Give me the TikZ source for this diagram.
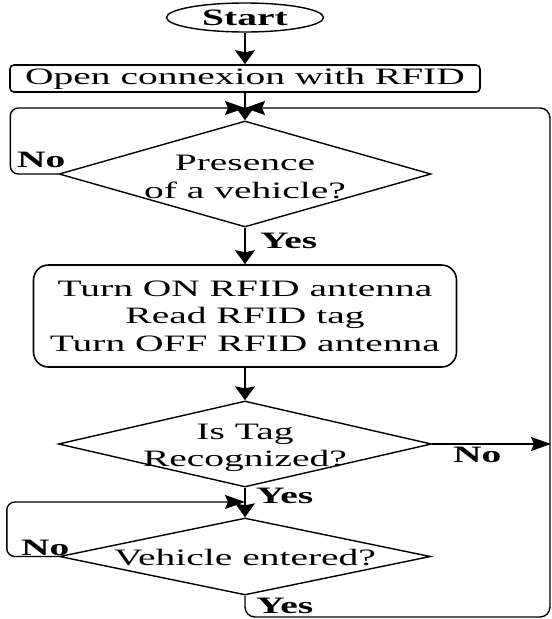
\documentclass[tikz,border=0pt]{standalone}
\usepackage{fontspec}
\setmainfont{Liberation Serif}[FakeStretch=1.68]
\usetikzlibrary{shapes.geometric,arrows.meta}
\begin{document}
\begin{tikzpicture}[x=1pt,y=-1pt,
  txt/.style={font=\fontsize{23.5pt}{27.5pt}\selectfont, inner sep=0pt},
  line/.style={line width=1.4pt},
  varr/.style={line, -{Stealth[length=14pt,width=20pt,inset=2pt]}},
  harr/.style={line, -{Stealth[length=20pt,width=14pt,inset=3pt]}},
  proc/.style={txt, draw, line width=1.6pt, rectangle},
  dec/.style={draw, line width=1.4pt, diamond, inner sep=0pt},
  lbl/.style={txt, font=\fontsize{23.5pt}{27.5pt}\selectfont\bfseries, anchor=base west},
  dtext/.style={txt, align=center}]
\useasboundingbox (0,0) rectangle (552,619);

\node[txt, draw, line width=1.4pt, ellipse, minimum width=157pt, minimum height=29pt,
      font=\fontsize{23.5pt}{27.5pt}\selectfont\bfseries] (start) at (245,17.5) {Start};
\node[proc, rounded corners=4pt, minimum width=470pt, minimum height=27pt] (open) at (245,78.5) {Open connexion with RFID};
\node[dec, minimum width=372pt, minimum height=106pt] (d1) at (245,174) {};
\node[dtext] (d1t) at (245,177) {Presence\\of a vehicle?};
\node[proc, rounded corners=15pt, minimum width=423pt, minimum height=102pt, align=center] (act) at (245,316)
  {Turn ON RFID antenna\\Read RFID tag\\Turn OFF RFID antenna};
\node[dec, minimum width=373pt, minimum height=86pt] (d2) at (245,444) {};
\node[dtext] (d2t) at (245,448) {Is Tag\\Recognized?};
\node[dec, minimum width=371pt, minimum height=77pt] (d3) at (245,556.5) {};
\node[txt, anchor=base] (d3t) at (245,565) {Vehicle entered?};

\coordinate (j1) at (245,108);
\coordinate (j3) at (245,502);
\coordinate (e2) at (551,444);
\coordinate (rc) at (550,617);

\draw[varr] (start) -- (open);
\draw[varr] (open) -- (d1);
\draw[varr] (d1) -- (act);
\draw[varr] (act) -- (d2);
\draw[varr] (d2) -- (d3);
\draw[harr] (d2) -- (e2);
\draw[harr, rounded corners=8pt] (d1.west) -- ++(-48,0) |- (j1);
\draw[harr, rounded corners=8pt] (d3.west) -- ++(-52,0) |- (j3);
\draw[harr, rounded corners=10pt] (d3.south) |- (rc) |- (j1);

\node[lbl] (no1) at (17,167) {No};
\node[lbl] (yes1) at (260,248) {Yes};
\node[lbl] (no2) at (453,462) {No};
\node[lbl] (yes2) at (256,503) {Yes};
\node[lbl] (no3) at (21,555) {No};
\node[lbl] (yes3) at (256,613) {Yes};
\end{tikzpicture}
\end{document}
